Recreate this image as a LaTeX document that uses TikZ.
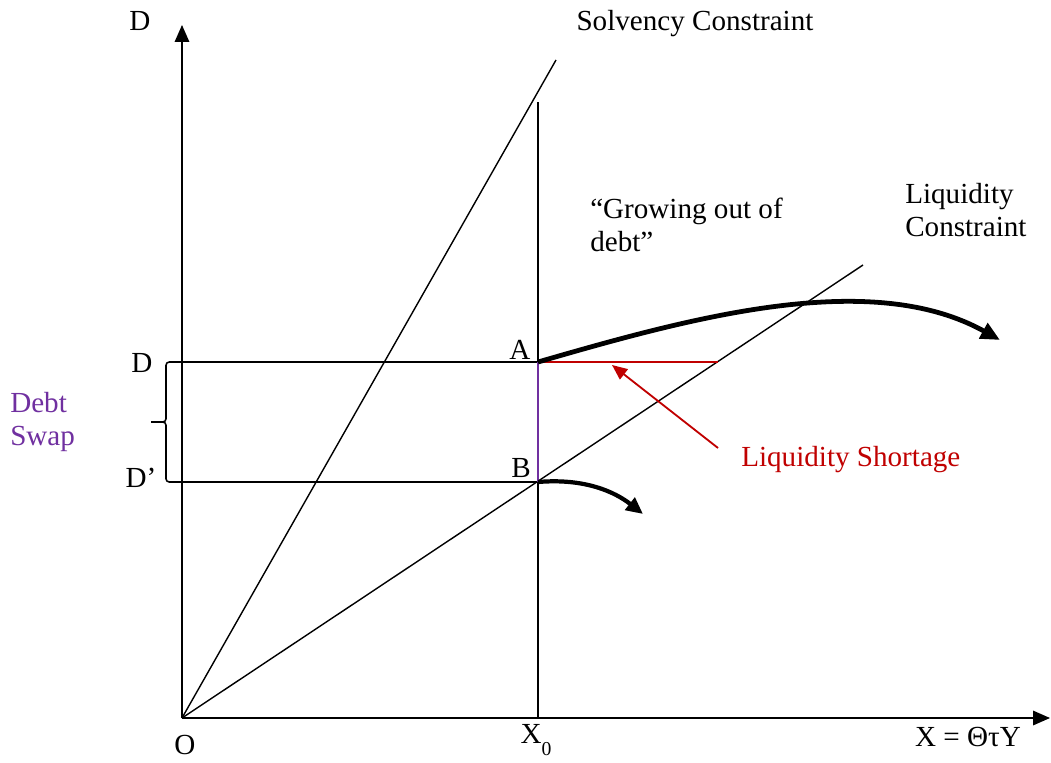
\documentclass[tikz,border=0pt]{standalone}
\usepackage{fontspec}
\setmainfont{Liberation Serif}
\usetikzlibrary{arrows.meta}
\definecolor{swapviolet}{RGB}{112,48,160}
\definecolor{shortred}{RGB}{192,0,0}

\begin{document}
\begin{tikzpicture}[x=0.025cm, y=-0.025cm,
  every node/.style={font=\fontsize{20.7}{23.5}\selectfont, inner sep=0pt},
  guide/.style={line width=1pt},
  axis/.style={line width=1pt, -{Triangle[length=0.42cm,width=0.36cm]}},
  path arrow/.style={line width=3.4pt, -{Triangle[length=0.48cm,width=0.42cm]}}]
  \useasboundingbox (0,0) rectangle (1051,762);
  % key points
  \coordinate (O) at (182,718);
  \coordinate (ytop) at (182,25);
  \coordinate (xend) at (1050,718);
  \coordinate (A) at (538,362);
  \coordinate (B) at (538,482);
  \coordinate (X0) at (538,718);
  \coordinate (X0top) at (538,102);
  \coordinate (solvend) at (556,60);
  \coordinate (liqend) at (863,265);
  \coordinate (Dpt) at (182,362);
  \coordinate (Dppt) at (182,482);
  \coordinate (bracetip) at (151,422);
  \coordinate (shortend) at (718,362);
  \coordinate (shortfrom) at (718,448);
  % axes
  \draw[axis] (O) -- (ytop);
  \draw[axis] (O) -- (xend);
  % constraints and guides
  \draw[guide] (O) -- (solvend);
  \draw[guide] (O) -- (liqend);
  \draw[guide] (X0) -- (X0top);
  \draw[guide] (Dpt) -- (A);
  \draw[guide] (Dppt) -- (B);
  % debt swap brace
  \draw[line width=1.1pt, rounded corners=0.08cm] (Dpt) -| (166,422) -- (bracetip);
  \draw[line width=1.1pt, rounded corners=0.08cm] (Dppt) -| (166,422) -- (bracetip);
  % liquidity shortage and swap
  \draw[shortred, line width=1.3pt] (A) -- (shortend);
  \draw[swapviolet, line width=2pt] (A) -- (B);
  % growth paths
  \draw[path arrow] (A) .. controls (690,318) and (870,268) .. (1000,340);
  \draw[line width=3pt, -{Triangle[length=0.42cm,width=0.38cm]}] (B) .. controls (585,478) and (615,492) .. (643,514);
  % labels
  \node (Dtop) at (140,21) {D};
  \node (solvlbl) at (695,24) {Solvency Constraint};
  \node[anchor=north west, align=left] (liqlbl) at (905,183) {Liquidity\\Constraint};
  \node[anchor=north west, align=left] (growlbl) at (590,198) {“Growing out of\\debt”};
  \node (Albl) at (520,350) {A};
  \node (Blbl) at (521,468) {B};
  \node (Dlbl) at (142,363) {D};
  \node (Dplbl) at (141,478) {D’};
  \node[anchor=north west, align=left, text=swapviolet] (swaplbl) at (10,392) {Debt\\Swap};
  \node[anchor=west, text=shortred] (shortlbl) at (741,460) {Liquidity Shortage};
  \node (Olbl) at (185,745) {O};
  \node (X0lbl) at (536,740) {X\raisebox{-8pt}{\fontsize{14}{14}\selectfont 0}};
  \node (xlbl) at (968,737) {X = ΘτY};
  \draw[shortred, line width=1.3pt, -{Triangle[length=0.38cm,width=0.32cm]}] (shortfrom) -- (612,365);
\end{tikzpicture}
\end{document}
